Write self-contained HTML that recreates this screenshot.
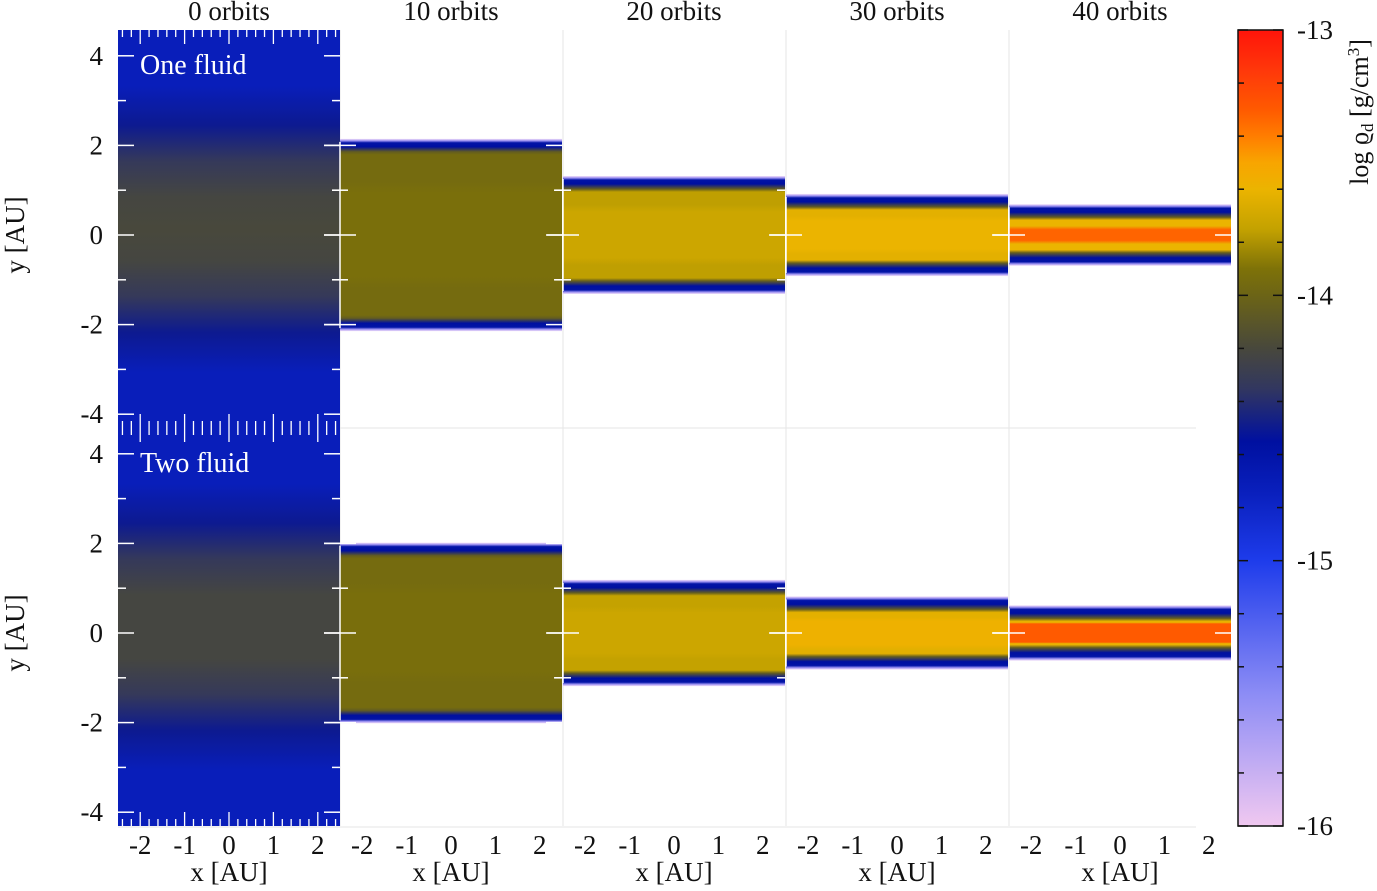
<!DOCTYPE html>
<html><head><meta charset="utf-8"><style>
html,body{margin:0;padding:0;background:#fff;}
svg text{font-family:"Liberation Serif",serif;}
</style></head><body>
<svg id="chart" width="1377" height="886" viewBox="0 0 1377 886" xmlns="http://www.w3.org/2000/svg">
<defs id="defs"></defs>
<g id="plot"></g>
</svg>
<script>
// ---- data ----
const orbitLabels = ["0 orbits","10 orbits","20 orbits","30 orbits","40 orbits"];
const rowLabels = ["One fluid","Two fluid"];
// slab half thickness in AU (first panel fills whole domain)
const halfTopRow = [4.6, 2.08, 1.25, 0.85, 0.62];
const halfBottomRow = [4.6, 1.95, 1.12, 0.75, 0.55];
// central log density
const centerTopRow = [-14.2, -13.92, -13.72, -13.6, -13.33];
const centerBottomRow = [-14.22, -13.93, -13.72, -13.58, -13.3];
// inner-edge log density
const edgeTopRow = [-14.2, -13.95, -13.76, -13.63, -13.6];
const edgeBottomRow = [-14.22, -13.95, -13.75, -13.63, -13.6];
// plateau fraction of central value
const plateauTopRow = [0, 0.5, 0.5, 0.5, 0.3];
const plateauBottomRow = [0, 0.5, 0.5, 0.5, 0.62];
const xTicks = [-2,-1,0,1,2];
const yTicks = [-4,-2,0,2,4];
const cbTicks = [-13,-14,-15,-16];

// ---- layout ----
const panelX0 = [118,340,563,786,1009];
const panelW = 222;
const rows = [{top:30,bot:428,zero:235},{top:428,bot:826,zero:633}];
const pyu = 44.8;
const pxu = 44.4;
const cbX = 1238, cbW = 45, cbTop = 30, cbBot = 826;

const cmap = [[-16,[240,200,240]],[-15.5,[140,140,245]],[-15,[30,60,235]],[-14.75,[10,32,190]],[-14.55,[0,16,160]],[-14.35,[50,55,95]],[-14.2,[72,72,60]],[-14,[108,100,22]],[-13.9,[126,114,8]],[-13.75,[196,162,0]],[-13.6,[235,180,0]],[-13.5,[248,165,0]],[-13.4,[255,125,0]],[-13.3,[255,90,0]],[-13.15,[255,55,10]],[-13,[255,20,10]]];
function col(v){
  v=Math.max(-16,Math.min(-13,v));
  for(let i=0;i<cmap.length-1;i++){const a=cmap[i],b=cmap[i+1];
    if(v>=a[0]&&v<=b[0]){const t=(v-a[0])/(b[0]-a[0]);
      return 'rgb('+a[1].map((c,k)=>Math.round(c+(b[1][k]-c)*t)).join(',')+')';}}
  return 'rgb(255,20,10)';
}
const NS='http://www.w3.org/2000/svg';
const plot=document.getElementById('plot'), defs=document.getElementById('defs');
function mk(tag,attrs,parent){const e=document.createElementNS(NS,tag);for(const k in attrs)e.setAttribute(k,attrs[k]);(parent||plot).appendChild(e);return e;}
function yPix(r,v){return rows[r].zero - v*pyu;}
function xPix(p,v){return panelX0[p]+panelW/2+v*pxu;}

for(let p=1;p<5;p++){const l=mk('line',{x1:panelX0[p],x2:panelX0[p],y1:30,y2:826,stroke:'#e6e6e6','stroke-width':1});

}
const hl=mk('line',{x1:118,x2:1196,y1:428,y2:428,stroke:'#e6e6e6','stroke-width':1});


mk('line',{x1:118,x2:1196,y1:827,y2:827,stroke:'#e6e6e6'});

[ [halfTopRow,centerTopRow,edgeTopRow,plateauTopRow],[halfBottomRow,centerBottomRow,edgeBottomRow,plateauBottomRow] ].forEach(([halfs,cents,edges,plats],r)=>{
  for(let p=0;p<5;p++){
    const h=halfs[p], c=cents[p], ed=edges[p], pl=plats[p];
    const gid='g'+r+'_'+p;
    const g=mk('linearGradient',{id:gid,x1:0,y1:0,x2:0,y2:1},defs);
    let y0,y1;
    if(p===0){
      y0=rows[r].top; y1=rows[r].bot;
      const stops=[[0,-14.72],[0.14,-14.72],[0.24,-14.5],[0.33,-14.33],[0.42,-14.22],[0.5,c],[0.58,-14.22],[0.67,-14.33],[0.76,-14.5],[0.86,-14.72],[1,-14.72]];
      stops.forEach(s=>mk('stop',{offset:s[0],'stop-color':col(s[1])},g));
    } else {
      y0=yPix(r,h)-3; y1=yPix(r,-h)+3;
      const th=y1-y0, px=v=>v/th;
      const half=th/2, inner=half-13;
      const top=[[0,'rgb(245,225,250)'],[px(2),'rgb(150,140,240)'],[px(4),col(-14.6)],[px(8),col(-14.55)],[px(13),col(-14.05)],[px(16),col(ed)]];
      top.forEach(s=>mk('stop',{offset:s[0],'stop-color':s[1]},g));
      const pin=(half-inner*pl)/th, pout=(half+inner*pl)/th;
      mk('stop',{offset:Math.max(px(17),pin-0.06),'stop-color':col(ed)},g);
      mk('stop',{offset:pin,'stop-color':col(c)},g);
      mk('stop',{offset:pout,'stop-color':col(c)},g);
      mk('stop',{offset:Math.min(1-px(17),pout+0.06),'stop-color':col(ed)},g);
      top.slice().reverse().forEach(s=>mk('stop',{offset:1-s[0],'stop-color':s[1]},g));
    }
    const rc=mk('rect',{x:panelX0[p],y:y0,width:panelW,height:y1-y0,fill:'url(#'+gid+')'});
    
    
    if(p>0) mk('line',{x1:panelX0[p],x2:panelX0[p],y1:y0+3,y2:y1-3,stroke:'#fff','stroke-width':1.5});
    yTicks.forEach(v=>{const y=yPix(r,v); if(y<y0||y>y1) return;
      mk('line',{x1:panelX0[p]-(p>0?16:0),x2:panelX0[p]+16,y1:y,y2:y,stroke:'#fff','stroke-width':1.5});
      mk('line',{x1:panelX0[p]+panelW-16,x2:panelX0[p]+panelW,y1:y,y2:y,stroke:'#fff','stroke-width':1.5});});
    for(let v=-3;v<=3;v+=2){const y=yPix(r,v); if(y<y0||y>y1) continue;
      mk('line',{x1:panelX0[p]-(p>0?8:0),x2:panelX0[p]+8,y1:y,y2:y,stroke:'#fff','stroke-width':1.5});
      mk('line',{x1:panelX0[p]+panelW-8,x2:panelX0[p]+panelW,y1:y,y2:y,stroke:'#fff','stroke-width':1.5});}
    if(p===0){
      for(let k=-12;k<=12;k++){const x=xPix(0,k*0.2);const L=(k%5===0)?14:7;
        mk('line',{x1:x,x2:x,y1:rows[r].top,y2:rows[r].top+L,stroke:'#fff','stroke-width':1.3});
        mk('line',{x1:x,x2:x,y1:rows[r].bot,y2:rows[r].bot-L,stroke:'#fff','stroke-width':1.3});}
    }
  }
  yTicks.forEach(v=>{const t=mk('text',{x:103,y:yPix(r,v)+9,'font-size':27,'text-anchor':'end',fill:'#111'});t.textContent=v;
    
    });
  const yt=mk('text',{transform:'translate(24,'+(rows[r].zero)+') rotate(-90)','font-size':27,'text-anchor':'middle',fill:'#111'});
  yt.textContent='y [AU]';
  
  
  const rl=mk('text',{x:140,y:rows[r].top+44,'font-size':28,fill:'#fff'});
  rl.textContent=rowLabels[r];
  
  
});
for(let p=0;p<5;p++){
  xTicks.forEach(v=>{const t=mk('text',{x:xPix(p,v),y:854,'font-size':27,'text-anchor':'middle',fill:'#111'});t.textContent=v;
    
    });
  const xt=mk('text',{x:panelX0[p]+panelW/2,y:881,'font-size':27,'text-anchor':'middle',fill:'#111'});
  xt.textContent='x [AU]';
  
  
  const ot=mk('text',{x:panelX0[p]+panelW/2,y:20,'font-size':27,'text-anchor':'middle',fill:'#111'});
  ot.textContent=orbitLabels[p];
  
  
}
const cg=mk('linearGradient',{id:'cbg',x1:0,y1:1,x2:0,y2:0},defs);
for(let v=-16;v<=-13.001;v+=0.05){mk('stop',{offset:(v+16)/3,'stop-color':col(v)},cg);}
mk('stop',{offset:1,'stop-color':col(-13)},cg);
const cbr=mk('rect',{x:cbX,y:cbTop,width:cbW,height:cbBot-cbTop,fill:'url(#cbg)',stroke:'#111','stroke-width':1.5});


function cbY(v){return cbTop+(-13-v)/3*(cbBot-cbTop);}
for(let k=0;k<=15;k++){const v=-13-k*0.2,y=cbY(v),L=(k%5===0)?10:6;
  mk('line',{x1:cbX,x2:cbX+L,y1:y,y2:y,stroke:'#111','stroke-width':1.5});
  mk('line',{x1:cbX+cbW-L,x2:cbX+cbW,y1:y,y2:y,stroke:'#111','stroke-width':1.5});}
cbTicks.forEach(v=>{const t=mk('text',{x:1297,y:cbY(v)+9,'font-size':27,fill:'#111'});t.textContent=v;
  
  });
const ct=mk('text',{transform:'translate(1368,112) rotate(-90)','font-size':26,'text-anchor':'middle',fill:'#111'});
ct.innerHTML='log ϱ<tspan font-size="17" dy="5">d</tspan><tspan dy="-5"> [g/cm</tspan><tspan font-size="17" dy="-9">3</tspan><tspan dy="9">]</tspan>';


</script>
</body></html>
